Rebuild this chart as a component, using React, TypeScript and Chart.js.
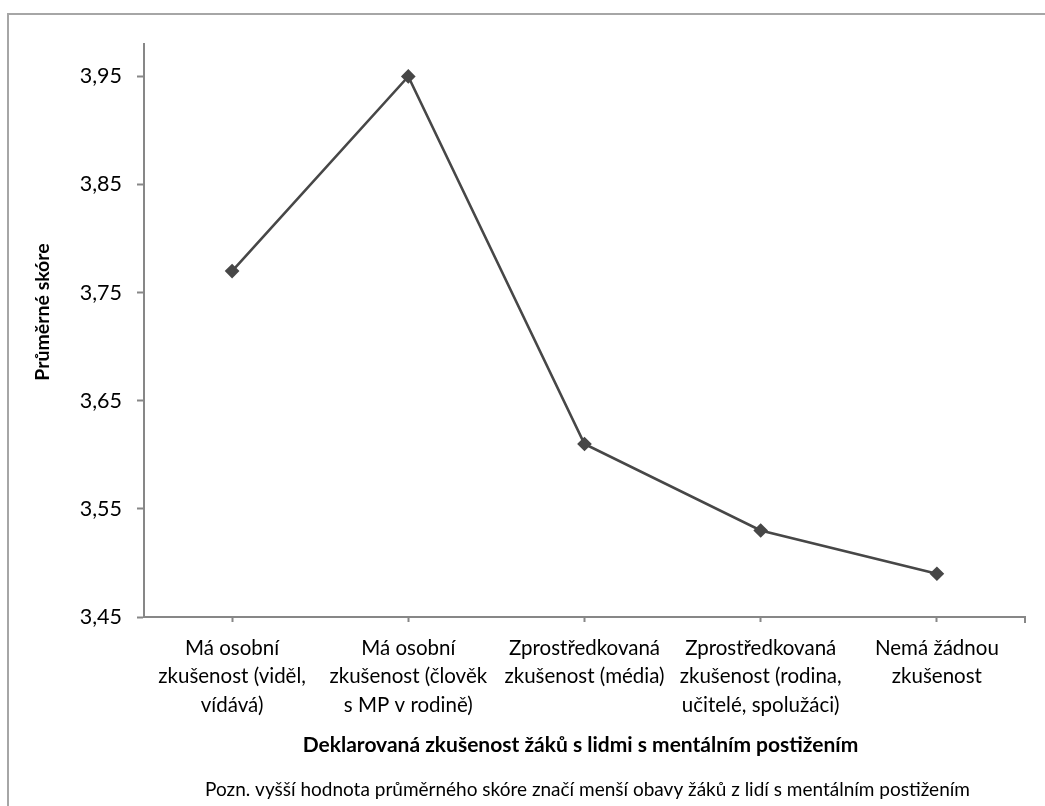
import { useEffect, useRef } from 'react';
import { Chart, registerables } from 'chart.js';

Chart.register(...registerables);

const categories: string[][] = [
  ['Má osobní', 'zkušenost (viděl,', 'vídává)'],
  ['Má osobní', 'zkušenost (člověk', 's MP v rodině)'],
  ['Zprostředkovaná', 'zkušenost (média)'],
  ['Zprostředkovaná', 'zkušenost (rodina,', 'učitelé, spolužáci)'],
  ['Nemá žádnou', 'zkušenost'],
];
const scores = [3.77, 3.95, 3.61, 3.53, 3.49];
const yTicks = [3.45, 3.55, 3.65, 3.75, 3.85, 3.95];
const yMin = 3.45;
const yMax = 3.98;
const yTitle = 'Průměrné skóre';
const xTitle = 'Deklarovaná zkušenost žáků s lidmi s mentálním postižením';
const note = 'Pozn. vyšší hodnota průměrného skóre značí menší obavy žáků z lidí s mentálním postižením';

const FONT = 'Lato, "Open Sans", sans-serif';
const AXIS_COLOR = '#878787';

const textPlugin = {
  id: 'extraText',
  afterDraw(chart: any) {
    const { ctx, chartArea } = chart;
    ctx.save();
    // extra tick at the right end of the x axis
    ctx.strokeStyle = AXIS_COLOR;
    ctx.lineWidth = 2;
    ctx.beginPath();
    ctx.moveTo(chartArea.right, chartArea.bottom);
    ctx.lineTo(chartArea.right, chartArea.bottom + 6);
    ctx.stroke();

    ctx.fillStyle = '#000';
    ctx.textAlign = 'center';
    ctx.textBaseline = 'middle';
    // y axis title
    ctx.save();
    ctx.translate(34, 297);
    ctx.rotate(-Math.PI / 2);
    ctx.font = `bold 19.5px ${FONT}`;
    ctx.fillText(yTitle, 0, 0);
    ctx.restore();
    // x axis title
    const cx = (chartArea.left + chartArea.right) / 2;
    ctx.font = `bold 21px ${FONT}`;
    ctx.fillText(xTitle, cx - 4, 730);
    // note
    ctx.font = `19px ${FONT}`;
    ctx.fillText(note, cx + 3, 775);
    ctx.restore();
  },
};

export default function App() {
  const ref = useRef<HTMLCanvasElement | null>(null);

  useEffect(() => {
    if (!ref.current) return;
    const chart = new Chart(ref.current, {
      type: 'line',
      data: {
        labels: categories,
        datasets: [
          {
            data: scores,
            borderColor: '#474747',
            backgroundColor: '#474747',
            borderWidth: 2.6,
            pointStyle: 'rectRot',
            pointRadius: 5.5,
            pointHoverRadius: 5.5,
            pointBackgroundColor: '#474747',
            pointBorderColor: '#474747',
            tension: 0,
            fill: false,
          },
        ],
      },
      options: {
        animation: false,
        responsive: false,
        maintainAspectRatio: false,
        layout: { padding: { top: 29, right: 20, left: 0, bottom: 0 } },
        plugins: {
          legend: { display: false },
          tooltip: { enabled: false },
          title: { display: false },
        },
        scales: {
          x: {
            type: 'category',
            offset: true,
            grid: {
              offset: false,
              drawOnChartArea: false,
              drawTicks: true,
              tickLength: 5,
              tickColor: AXIS_COLOR,
              tickWidth: 2,
            },
            border: { display: true, color: AXIS_COLOR, width: 2 },
            ticks: {
              color: '#000',
              font: { family: FONT, size: 20.5, lineHeight: 1.39 },
              padding: 12,
              maxRotation: 0,
              minRotation: 0,
              autoSkip: false,
            },
            afterFit(scale: any) {
              scale.height = 189;
            },
          },
          y: {
            type: 'linear',
            min: yMin,
            max: yMax,
            afterBuildTicks(scale: any) {
              scale.ticks = yTicks.map((v) => ({ value: v }));
            },
            grid: {
              drawOnChartArea: false,
              drawTicks: true,
              tickLength: 7,
              tickColor: AXIS_COLOR,
              tickWidth: 2,
            },
            border: { display: true, color: AXIS_COLOR, width: 2 },
            ticks: {
              color: '#000',
              font: { family: FONT, size: 21.5 },
              padding: 15,
              callback: (v: any) => Number(v).toFixed(2).replace('.', ','),
            },
            afterFit(scale: any) {
              scale.width = 135;
            },
          },
        },
      },
      plugins: [textPlugin],
    });
    return () => chart.destroy();
  }, []);

  return (
    <div
      style={{
        position: 'absolute',
        left: 7,
        top: 13,
        width: 1038,
        height: 793,
        borderTop: '2px solid #a6a6a6',
        borderLeft: '2px solid #a6a6a6',
        background: '#fff',
        overflow: 'hidden',
      }}
    >
      <canvas ref={ref} width={1036} height={791} style={{ display: 'block', width: 1036, height: 791 }} />
    </div>
  );
}
